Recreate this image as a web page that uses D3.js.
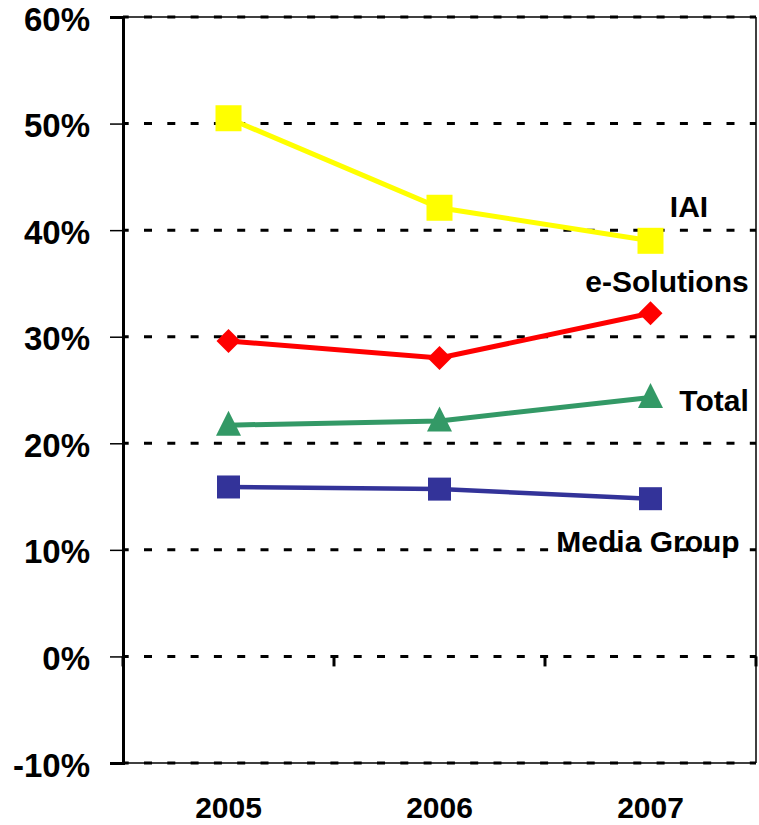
<!DOCTYPE html>
<html><head><meta charset="utf-8">
<script src="https://cdn.jsdelivr.net/npm/d3@7"></script>
<style>body{margin:0;background:#fff}text{font-family:"Liberation Sans",Arial,sans-serif;font-weight:bold}</style>
</head><body>
<script>
const years = ["2005","2006","2007"];
const iai = [50.5, 42.1, 39.0];
const eSolutions = [29.6, 28.0, 32.2];
const total = [21.7, 22.1, 24.3];
const mediaGroup = [15.9, 15.7, 14.8];
const yTicks = [-10,0,10,20,30,40,50,60];
const seriesNames = ["IAI","e-Solutions","Total","Media Group"];

const W=759,H=825;
const svg=d3.select("body").append("svg").attr("width",W).attr("height",H);
const L=123,R=756,T=17,B=763;
const x=d3.scaleBand().domain(years).range([L,R]);
const y=d3.scaleLinear().domain([-10,60]).range([B,T]);

// grid lines (dashed)
svg.append("g").selectAll("line").data(yTicks).join("line")
  .attr("x1",L).attr("x2",R).attr("y1",d=>y(d)).attr("y2",d=>y(d))
  .attr("stroke","#000").attr("stroke-width",3).attr("stroke-dasharray","8,15.3").attr("stroke-dashoffset",2.3);
// frame
svg.append("line").attr("x1",L).attr("x2",R).attr("y1",T).attr("y2",T).attr("stroke","#000").attr("stroke-width",1.5);
svg.append("line").attr("x1",L).attr("x2",R).attr("y1",B).attr("y2",B).attr("stroke","#000").attr("stroke-width",1.5);
svg.append("line").attr("x1",R).attr("x2",R).attr("y1",T).attr("y2",B).attr("stroke","#000").attr("stroke-width",1.5);

// y axis
const yAxis=d3.axisLeft(y).tickValues(yTicks).tickFormat(d=>d+"%").tickSize(13).tickPadding(20);
const ga=svg.append("g").attr("transform",`translate(${L},0)`).call(yAxis);
ga.select(".domain").attr("stroke-width",3);
ga.selectAll(".tick line").attr("stroke-width",1.5);
ga.selectAll("text").attr("font-size",33).attr("dy",13).attr("font-family","Liberation Sans, Arial").attr("font-weight","bold").attr("fill","#000");

// x ticks at 0 line (between categories)
const xb=[L].concat(years.map(d=>x(d)+x.bandwidth()));
svg.append("g").selectAll("line").data(xb).join("line")
  .attr("x1",d=>d).attr("x2",d=>d).attr("y1",y(0)).attr("y2",y(0)+10)
  .attr("stroke","#000").attr("stroke-width",3);

// x labels
svg.append("g").selectAll("text").data(years).join("text")
  .attr("x",d=>x(d)+x.bandwidth()/2).attr("y",818).attr("text-anchor","middle")
  .attr("font-size",30).text(d=>d);

const cx=d=>x(d)+x.bandwidth()/2;
const series=[
 {name:"IAI",vals:iai,color:"#FFFF00",w:5,shape:"sq",size:26},
 {name:"e-Solutions",vals:eSolutions,color:"#FF0000",w:5,shape:"dia",size:24},
 {name:"Total",vals:total,color:"#339966",w:5,shape:"tri",size:25},
 {name:"Media Group",vals:mediaGroup,color:"#333399",w:4.5,shape:"sq",size:23}
];
const line=d3.line().x(d=>cx(d.k)).y(d=>y(d.v));
series.forEach(s=>{
  const pts=years.map((k,i)=>({k,v:s.vals[i]}));
  svg.append("path").datum(pts).attr("d",line).attr("fill","none").attr("stroke",s.color).attr("stroke-width",s.w);
  const g=svg.append("g");
  pts.forEach(p=>{
    const px=cx(p.k),py=y(p.v),h=s.size/2;
    if(s.shape==="sq") g.append("rect").attr("x",px-h).attr("y",py-h).attr("width",s.size).attr("height",s.size).attr("fill",s.color);
    else if(s.shape==="dia") g.append("path").attr("d",`M${px},${py-h}L${px+h},${py}L${px},${py+h}L${px-h},${py}Z`).attr("fill",s.color);
    else g.append("path").attr("d",`M${px},${py-h-2}L${px+h},${py+h-2}L${px-h},${py+h-2}Z`).attr("fill",s.color);
  });
});

// labels
const labels=[
 {t:seriesNames[0],x:689,y:217},
 {t:seriesNames[1],x:667,y:292},
 {t:seriesNames[2],x:714,y:411},
 {t:seriesNames[3],x:648,y:552}
];
svg.append("g").selectAll("text").data(labels).join("text")
  .attr("x",d=>d.x).attr("y",d=>d.y).attr("text-anchor","middle").attr("font-size",30).text(d=>d.t);
</script>
</body></html>
